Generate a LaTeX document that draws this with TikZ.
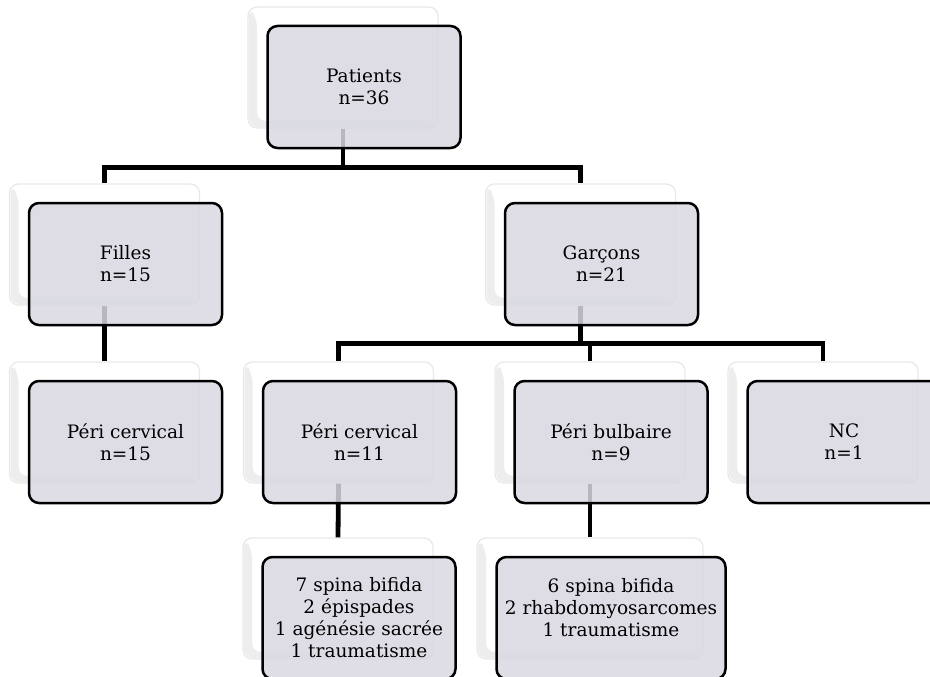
\documentclass[tikz,border=0pt]{standalone}
\usepackage{fontspec}
\setmainfont{DejaVu Serif}
\usetikzlibrary{calc}
\definecolor{boxgray}{RGB}{217,216,226}

\tikzset{
  backbox/.style={draw=black!9, line width=1.2pt, fill=white, rounded corners=9pt,
    minimum height=121pt, inner sep=0pt,
    path picture={\fill[black!7]
      ([shift={(1pt,-1pt)}]path picture bounding box.north west) --
      ([shift={(1pt,1pt)}]path picture bounding box.south west) --
      ([shift={(-1pt,1pt)}]path picture bounding box.south east) --
      ([shift={(-9pt,7pt)}]path picture bounding box.south east) --
      ([shift={(9pt,7pt)}]path picture bounding box.south west) --
      ([shift={(9pt,-11pt)}]path picture bounding box.north west) -- cycle;}},
  frontbox/.style={draw=black, line width=2.5pt, fill=boxgray, fill opacity=0.85,
    text opacity=1, rounded corners=10pt, minimum height=122pt, inner sep=0pt,
    align=center, font=\fontsize{18.5}{22}\selectfont},
  link/.style={line width=4.8pt}
}

\def\boxes{P/343/67.5/190/{Patients\\n=36},
  F/104.5/244.5/190/{Filles\\n=15},
  G/580.5/244.5/190/{Garçons\\n=21},
  PF/104.5/422.5/190/{Péri cervical\\n=15},
  PC/338.5/422.5/190/{Péri cervical\\n=11},
  PB/590/422.5/190/{Péri bulbaire\\n=9},
  NC/823/422.5/190/{NC\\n=1},
  CA/338/598.5/190/{7 spina bifida\\2 épispades\\1 agénésie sacrée\\1 traumatisme},
  CB/590/598.5/226/{6 spina bifida\\2 rhabdomyosarcomes\\1 traumatisme\\\mbox{}}}

\begin{document}
\begin{tikzpicture}[x=1pt, y=-1pt]
\useasboundingbox (0,0) rectangle (930,677);
% back cards
\foreach \n/\x/\y/\w/\txt in \boxes {
  \node[backbox, minimum width=\w pt] (\n-b) at (\x,\y) {};
}
% links
\draw[link] (P-b.south) -- ++(0,38.5) -| (F-b.north);
\draw[link] (P-b.south) -- ++(0,38.5) -| (G-b.north);
\draw[link] (F-b.south) -- (PF-b.north);
\draw[link] (G-b.south) -- ++(0,38) -| (PC-b.north);
\draw[link] (G-b.south) -- ++(0,38) -| (PB-b.north);
\draw[link] (G-b.south) -- ++(0,38) -| (NC-b.north);
\draw[link] (PC-b.south) -- (CA-b.north);
\draw[link] (PB-b.south) -- (CB-b.north);
% front cards
\foreach \n/\x/\y/\w/\txt in \boxes {
  \node[frontbox, minimum width=\w pt+3pt] (\n-f) at ($(\n-b)+(21,19.5)$) {\txt};
}
\end{tikzpicture}
\end{document}
